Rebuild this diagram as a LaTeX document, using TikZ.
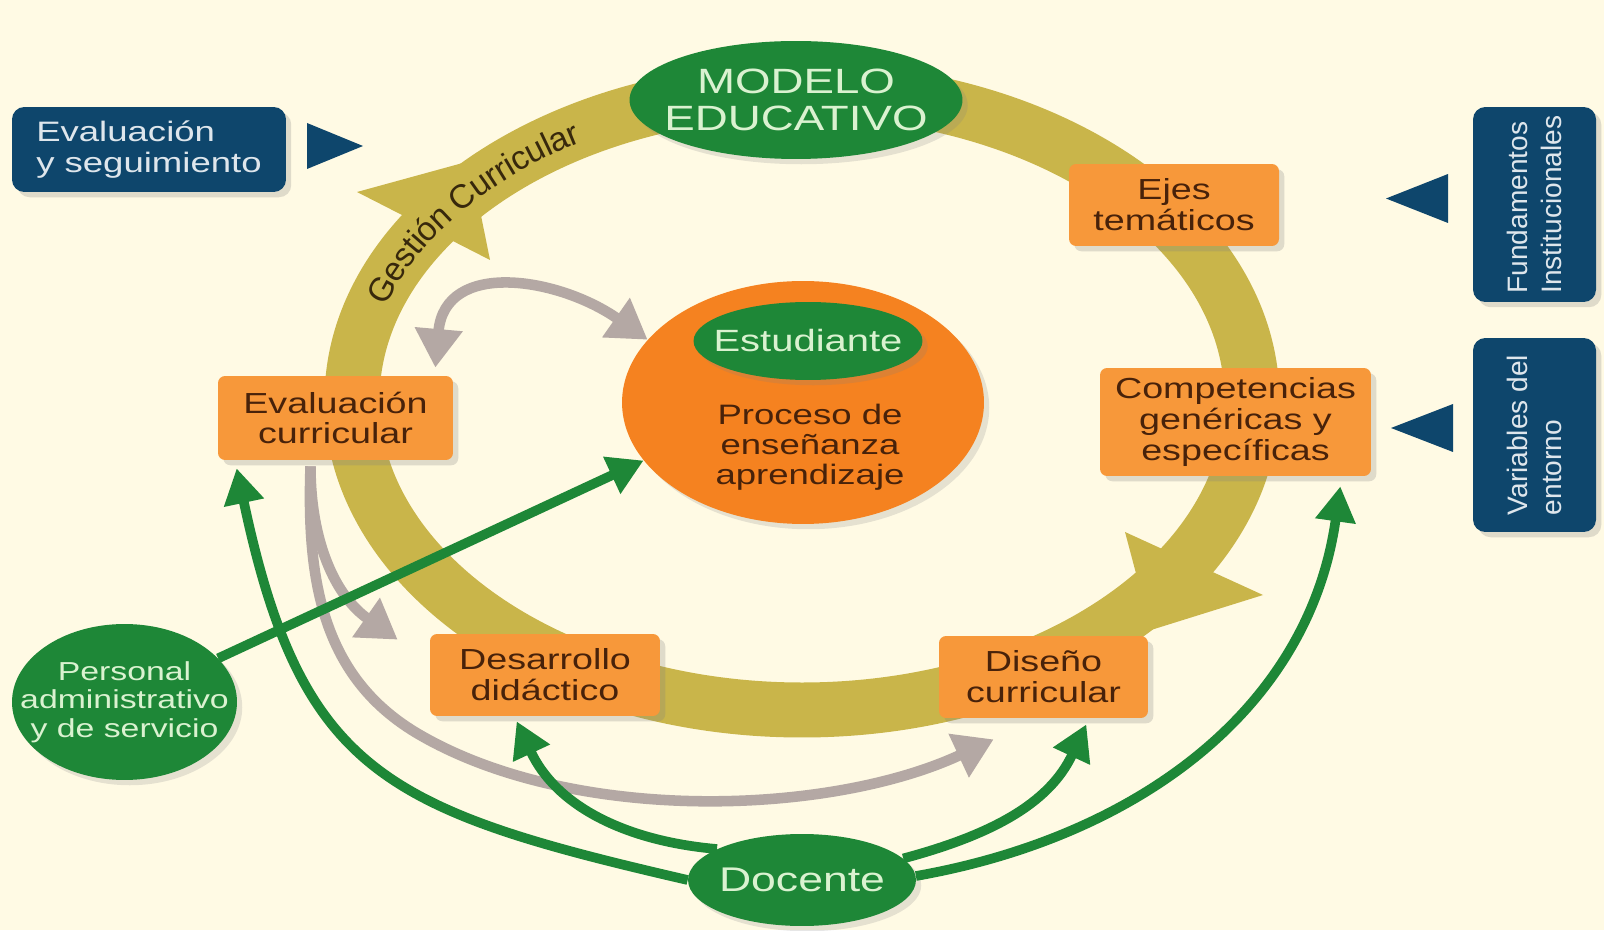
\documentclass[tikz,border=0pt]{standalone}
\usepackage{fontspec}
\setmainfont{Liberation Sans}[FakeStretch=1.3]
\newfontfamily\upfont{Liberation Sans}
\usetikzlibrary{shapes.geometric,arrows.meta,calc,decorations.text,shadows}

\definecolor{cream}{RGB}{255,250,228}
\definecolor{gold}{RGB}{201,181,74}
\definecolor{ringtxt}{RGB}{55,40,12}
\definecolor{boxor}{RGB}{247,152,58}
\definecolor{bigor}{RGB}{245,130,32}
\definecolor{boxtxt}{RGB}{72,34,10}
\definecolor{dgreen}{RGB}{30,135,55}
\definecolor{pale}{RGB}{218,242,208}
\definecolor{navy}{RGB}{14,70,108}
\definecolor{navytxt}{RGB}{222,230,236}
\definecolor{mauve}{RGB}{180,168,164}

\tikzset{
  box/.style={rectangle, rounded corners=4pt, fill=boxor, text=boxtxt, align=center,
    inner sep=0pt, font=\fontsize{16.5}{17.5}\selectfont,
    drop shadow={opacity=0.25, shadow xshift=3pt, shadow yshift=-3pt}},
  navybox/.style={rectangle, rounded corners=7pt, fill=navy, text=navytxt, align=left,
    inner sep=0pt, drop shadow={opacity=0.25, shadow xshift=3pt, shadow yshift=-3pt}},
  gell/.style={ellipse, fill=dgreen, text=pale, align=center, inner sep=0pt, inner xsep=-20pt,
    drop shadow={opacity=0.2, shadow xshift=3pt, shadow yshift=-3pt}},
  garrow/.style={draw=dgreen, line width=5.5pt, -{Triangle[length=20pt,width=22pt]}},
  gline/.style={draw=mauve, line width=6pt, -{Triangle[length=22pt,width=26pt]}}
}

\begin{document}
\begin{tikzpicture}[x=0.02cm,y=0.02cm]
  \def\cx{802}
  \def\cy{530}

  \fill[cream] (0,0) rectangle (1604,930);

  \draw[gold, line width=1.1cm] (\cx,\cy) ellipse [x radius=450, y radius=310];
  \fill[gold] (357,738) -- (470,769) -- (490,670) -- cycle;
  \fill[gold] (1125,398) -- (1151,300) -- (1263,335) -- cycle;
  \path[decorate, decoration={text along path, text align=center, raise=-6.5pt,
      text={|\upfont\fontsize{19}{19}\selectfont\color{ringtxt}|Gestión Curricular}}]
    (\cx,\cy) ++(172:450 and 310) arc[start angle=172, end angle=112, x radius=450, y radius=310];

  \fill[navy] (307,807) -- (363,784) -- (307,761) -- cycle;
  \fill[navy] (1386,731.5) -- (1448,756) -- (1448,707) -- cycle;
  \fill[navy] (1391,502) -- (1453,526) -- (1453,478) -- cycle;

  \node[navybox, minimum width=5.48cm, minimum height=1.7cm, font=\fontsize{16}{17.5}\selectfont]
    (evseg) at (149,780.5) {Evaluación\\y seguimiento};
  \node[navybox, rotate=90, minimum width=3.9cm, minimum height=2.46cm, font=\upfont\fontsize{16}{19}\selectfont]
    (fund) at (1534.5,725.5) {Fundamentos\\Institucionales};
  \node[navybox, rotate=90, minimum width=3.88cm, minimum height=2.46cm, font=\upfont\fontsize{16}{19}\selectfont]
    (vari) at (1534.5,495) {Variables del\\entorno};

  \node[gell, minimum width=6.66cm, minimum height=2.36cm, font=\fontsize{20}{21}\selectfont]
    (modelo) at (796,830) {MODELO\\EDUCATIVO};

  \node[ellipse, fill=bigor, minimum width=7.24cm, minimum height=4.86cm,
    drop shadow={opacity=0.2, shadow xshift=3pt, shadow yshift=-3pt}] (prog) at (803,527.5) {};
  \node[gell, minimum width=4.58cm, minimum height=1.56cm, font=\fontsize{17.5}{18}\selectfont]
    (est) at (808,589) {Estudiante};
  \node[text=boxtxt, align=center, font=\fontsize{16}{17}\selectfont]
    (proc) at (810,483) {Proceso de\\enseñanza\\aprendizaje};

  \node[box, minimum width=4.2cm, minimum height=1.64cm] (ejes) at (1174,725) {Ejes\\temáticos};
  \node[box, minimum width=5.42cm, minimum height=2.16cm] (comp) at (1235.5,508)
    {Competencias\\genéricas y\\específicas};
  \node[box, minimum width=4.18cm, minimum height=1.64cm] (dise) at (1043.5,253) {Diseño\\curricular};
  \node[box, minimum width=4.6cm, minimum height=1.64cm] (desa) at (545,255) {Desarrollo\\didáctico};
  \node[box, minimum width=4.7cm, minimum height=1.68cm] (evalc) at (335.5,512) {Evaluación\\curricular};

  \node[gell, minimum width=4.5cm, minimum height=3.12cm, font=\fontsize{14.8}{16.2}\selectfont]
    (pers) at (124.5,228) {Personal\\administrativo\\y de servicio};
  \node[gell, minimum width=4.56cm, minimum height=1.84cm, font=\fontsize{19.5}{20}\selectfont]
    (doc) at (802,50) {Docente};

  \draw[gline, {Triangle[length=22pt,width=26pt]}-{Triangle[length=22pt,width=26pt]}]
    ($(evalc.north east)+(-18,8)$) to[out=85, in=145, looseness=1.3] (prog.158);
  \coordinate (gsrc) at ($(evalc.south)+(-25,-6)$);
  \coordinate (gmid) at (420,195);
  \draw[gline] (gsrc) to[out=-90, in=145] ($(desa.north west)+(-32,-6)$);
  \draw[gline] (gsrc) to[out=-92, in=150] (gmid) to[out=-30, in=205, looseness=0.8]
    ($(dise.south west)+(55,-21)$);

  \draw[garrow] (pers.25) -- (prog.200);
  \draw[garrow] (doc.west) to[out=167, in=-78, looseness=1.3] ($(evalc.south west)+(19,-8)$);
  \draw[garrow] (doc.160) to[out=175, in=-65] ($(desa.south west)+(87,-5)$);
  \draw[garrow] (doc.12) to[out=15, in=245] ($(dise.south east)+(-62,-6)$);
  \draw[garrow] (doc.2) to[out=10, in=-98] ($(comp.south east)+(-31,-10)$);
\end{tikzpicture}
\end{document}
